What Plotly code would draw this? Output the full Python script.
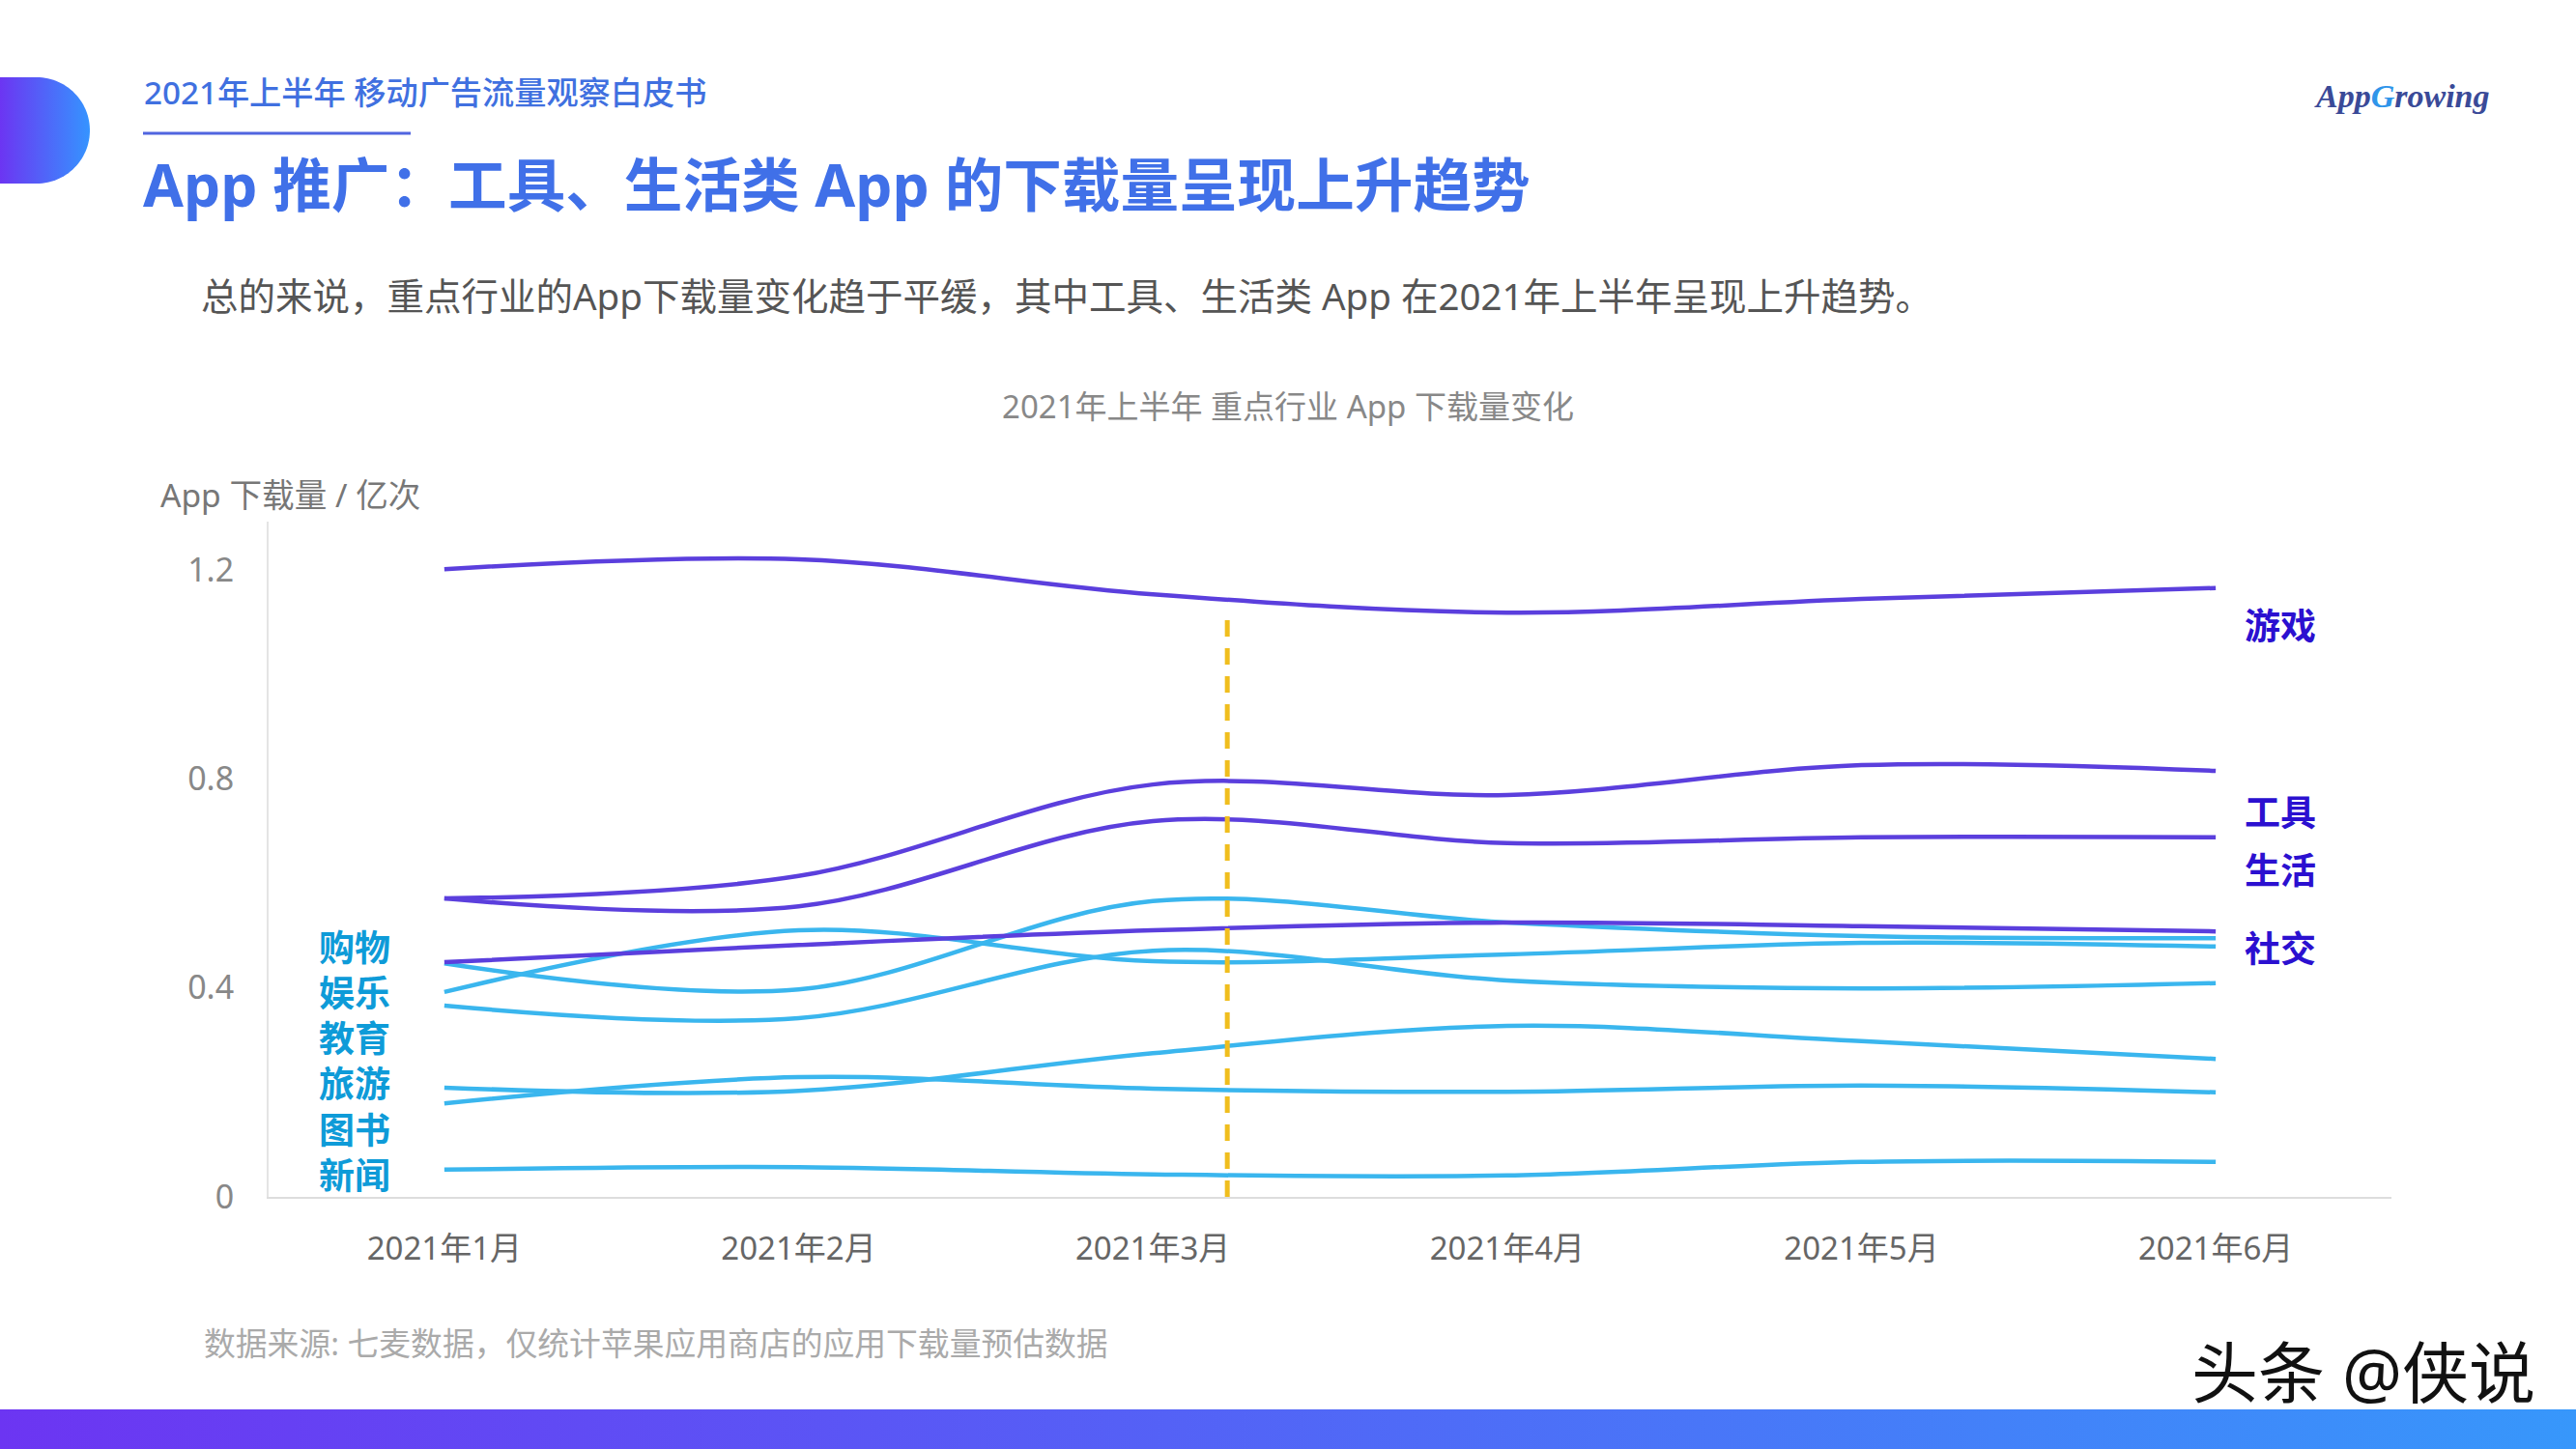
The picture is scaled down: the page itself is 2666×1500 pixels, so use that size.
import plotly.graph_objects as go
import numpy as np

W, H = 2666, 1500
FONT = "Noto Sans, Noto Sans CJK SC"

months = ["2021年1月", "2021年2月", "2021年3月", "2021年4月", "2021年5月", "2021年6月"]
y_ticks = [0, 0.4, 0.8, 1.2]
y_tick_text = ["0", "0.4", "0.8", "1.2"]

game = [1.201, 1.220, 1.153, 1.118, 1.144, 1.165]
tools = [0.571, 0.614, 0.789, 0.769, 0.826, 0.815]
life = [0.571, 0.556, 0.719, 0.677, 0.688, 0.688]
social = [0.449, 0.482, 0.510, 0.525, 0.518, 0.508]
shopping = [0.447, 0.397, 0.566, 0.525, 0.499, 0.495]
entertainment = [0.392, 0.510, 0.451, 0.464, 0.486, 0.479]
education = [0.366, 0.342, 0.471, 0.414, 0.399, 0.409]
travel = [0.209, 0.203, 0.275, 0.327, 0.298, 0.264]
books = [0.179, 0.229, 0.207, 0.201, 0.213, 0.200]
news = [0.052, 0.057, 0.043, 0.041, 0.067, 0.067]

PURPLE = "#5B3FDD"
SKY = "#3AB6EE"
purple_series = [("游戏", game), ("工具", tools), ("生活", life), ("社交", social)]
sky_series = [("购物", shopping), ("娱乐", entertainment), ("教育", education),
              ("旅游", travel), ("图书", books), ("新闻", news)]

fig = go.Figure()

# page decoration on a pixel-sized axis pair, drawn first
theta = np.linspace(-np.pi / 2, np.pi / 2, 60)
blob_x = [0] + list(38 + 55 * np.cos(theta)) + [0]
blob_y = [80] + list(135 + 55 * np.sin(theta)) + [190]
fig.add_trace(go.Scatter(x=blob_x, y=blob_y, xaxis="x2", yaxis="y2", mode="none", fill="toself",
                         fillgradient=dict(type="horizontal",
                                           colorscale=[[0, "#6C35F2"], [1, "#3594FF"]])))
fig.add_trace(go.Scatter(x=[0, W, W, 0, 0], y=[1459, 1459, H, H, 1459], xaxis="x2", yaxis="y2",
                         mode="none", fill="toself",
                         fillgradient=dict(type="horizontal",
                                           colorscale=[[0, "#6C35F2"], [1, "#3797FB"]])))

for name, vals in sky_series:
    fig.add_trace(go.Scatter(x=months, y=vals, name=name, mode="lines",
                             line=dict(color=SKY, width=4.5, shape="spline", smoothing=1.0)))
for name, vals in purple_series:
    fig.add_trace(go.Scatter(x=months, y=vals, name=name, mode="lines",
                             line=dict(color=PURPLE, width=4.5, shape="spline", smoothing=1.0)))


def label(text, x, y, size, color, anchor="left", weight=None, family=FONT):
    fig.add_annotation(xref="paper", yref="paper", x=x / W, y=1 - y / H, text=text, showarrow=False,
                       xanchor=anchor, yanchor="middle",
                       font=dict(family=family, size=size, color=color, weight=weight))


COLON = "\uff1a"
COMMA = "\uff0c"
label("2021年上半年 移动广告流量观察白皮书", 147, 95, 33.2, "#4070E0", weight=500)
label("App 推广" + COLON + "工具、生活类 App 的下载量呈现上升趋势", 146, 191, 60.6, "#4070E8", weight=700)
label("总的来说" + COMMA + "重点行业的App下载量变化趋于平缓" + COMMA + "其中工具、生活类 App 在2021年上半年呈现上升趋势。",
      206, 306, 38.5, "#555555")
label("2021年上半年 重点行业 App 下载量变化", 1333, 421, 33, "#888888", anchor="center")
label("App 下载量 / 亿次", 164, 512, 33.6, "#777777")
label("数据来源: 七麦数据" + COMMA + "仅统计苹果应用商店的应用下载量预估数据", 209, 1390, 32.8, "#AAAAAA")
label("头条 @侠说", 2446, 1420, 69, "#111111", anchor="center")
label("<i><b><span style='color:#3A4A98'>App</span><span style='color:#2F95EA'>G</span>"
      "<span style='color:#3A4A98'>rowing</span></b></i>", 2486, 99, 34, "#3A4A98",
      anchor="center", family="Liberation Serif")

for name, y in zip(["购物", "娱乐", "教育", "旅游", "图书", "新闻"], [980, 1027, 1074, 1121, 1169, 1216]):
    label(name, 367, y, 37, "#0E9BD8", anchor="center", weight=700)
for name, y in zip(["游戏", "工具", "生活", "社交"], [647, 840, 900, 982]):
    label(name, 2360, y, 37, "#2B10D0", anchor="center", weight=700)

fig.update_layout(
    width=W, height=H, margin=dict(l=0, r=0, t=0, b=0, pad=0, autoexpand=False), autosize=False,
    paper_bgcolor="white", plot_bgcolor="rgba(0,0,0,0)", showlegend=False, hovermode=False,
    font=dict(family=FONT),
    xaxis=dict(type="category", domain=[278 / W, 2475 / W], range=[-0.496, 5.496], showgrid=False,
               zeroline=False, showline=True, linecolor="#DDDDDD", linewidth=2, ticks="", automargin=False,
               tickfont=dict(family=FONT, size=33, color="#666666"), anchor="y", ticklabelstandoff=23),
    yaxis=dict(domain=[1 - 1239 / H, 1 - 540 / H], range=[0, 1.292], showgrid=False, zeroline=False,
               showline=True, linecolor="#E4E4E4", linewidth=2, ticks="", tickvals=y_ticks, automargin=False,
               ticktext=y_tick_text, tickfont=dict(family=FONT, size=34, color="#888888"),
               anchor="x", ticklabelstandoff=27),
    xaxis2=dict(domain=[0, 1], range=[0, W], visible=False, anchor="y2", automargin=False),
    yaxis2=dict(domain=[0, 1], range=[H, 0], visible=False, anchor="x2", automargin=False),
    shapes=[
        dict(type="line", xref="x", yref="y", x0=2.21, x1=2.21, y0=0, y1=1.107,
             line=dict(color="#F0BE1E", width=5, dash="17px,12px"), layer="above"),
        dict(type="line", xref="paper", yref="paper", x0=148 / W, x1=425 / W, y0=1 - 138 / H, y1=1 - 138 / H,
             line=dict(color="#5065E0", width=3)),
    ],
)

fig.write_html("out.html", post_script="document.body.style.margin='0';",
               config=dict(displayModeBar=False))
